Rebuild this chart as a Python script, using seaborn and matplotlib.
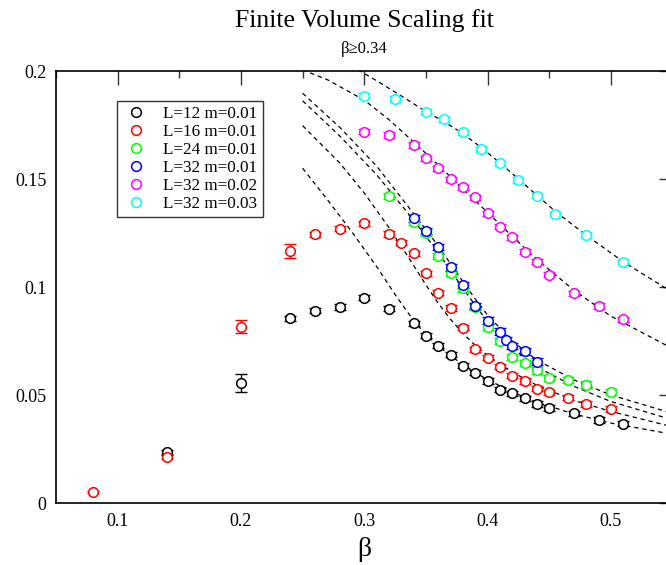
import numpy as np
import matplotlib
matplotlib.use("Agg")
import matplotlib.pyplot as plt
import seaborn as sns
from matplotlib.lines import Line2D
from matplotlib.ticker import MultipleLocator

sns.set_style("white")
plt.rcParams['font.family'] = ['Liberation Serif', 'DejaVu Serif']
plt.rcParams['text.color'] = 'black'
plt.rcParams['axes.labelcolor'] = 'black'
plt.rcParams['xtick.color'] = 'black'
plt.rcParams['ytick.color'] = 'black'

# ---------------- data ----------------
labels = ["L=12 m=0.01", "L=16 m=0.01", "L=24 m=0.01",
          "L=32 m=0.01", "L=32 m=0.02", "L=32 m=0.03"]
colors = ["#000000", "#ff0000", "#00ff00", "#0000ff", "#ff00ff", "#00ffff"]

l12_x = [0.14, 0.20, 0.24, 0.26, 0.28, 0.30, 0.32, 0.34, 0.35, 0.36, 0.37, 0.38,
         0.39, 0.40, 0.41, 0.42, 0.43, 0.44, 0.45, 0.47, 0.49, 0.51]
l12_y = [0.0235, 0.0555, 0.0855, 0.089, 0.0907, 0.095, 0.090, 0.0832, 0.0775, 0.0728,
         0.0686, 0.0635, 0.0603, 0.0565, 0.0525, 0.0508, 0.0485, 0.0458, 0.044,
         0.0415, 0.0384, 0.0368]
l12_e = [0.0012, 0.004, 0.0012, 0.0012, 0.0012, 0.0012, 0.0012, 0.0012, 0.0012, 0.0012,
         0.0012, 0.0012, 0.0012, 0.0012, 0.0012, 0.0012, 0.0012, 0.0012, 0.0012,
         0.0012, 0.0012, 0.0012]

l16_x = [0.08, 0.14, 0.20, 0.24, 0.26, 0.28, 0.30, 0.32, 0.33, 0.34, 0.35, 0.36,
         0.37, 0.38, 0.39, 0.40, 0.41, 0.42, 0.43, 0.44, 0.45, 0.465, 0.48, 0.50]
l16_y = [0.005, 0.0215, 0.0815, 0.1168, 0.1244, 0.127, 0.1295, 0.1245, 0.1205, 0.1156,
         0.1063, 0.0974, 0.0903, 0.0811, 0.0712, 0.0672, 0.0631, 0.0589, 0.0565,
         0.053, 0.0513, 0.0488, 0.0458, 0.0435]
l16_e = [0.0004, 0.0012, 0.003, 0.0032, 0.0012, 0.0012, 0.0012, 0.0012, 0.0012, 0.0012,
         0.0012, 0.0012, 0.0012, 0.0012, 0.0012, 0.0012, 0.0012, 0.0012, 0.0012,
         0.0012, 0.0012, 0.0012, 0.0012, 0.0012]

l24_x = [0.32, 0.34, 0.35, 0.36, 0.37, 0.38, 0.39, 0.40, 0.41, 0.42, 0.43, 0.44,
         0.45, 0.465, 0.48, 0.50]
l24_y = [0.1421, 0.1302, 0.1249, 0.1144, 0.1066, 0.0994, 0.0908, 0.0815, 0.0749,
         0.0675, 0.0649, 0.0614, 0.0578, 0.057, 0.0548, 0.0515]
l24_e = [0.0015] * 16

l32a_x = [0.34, 0.35, 0.36, 0.37, 0.38, 0.39, 0.40, 0.41, 0.415, 0.42, 0.43, 0.44]
l32a_y = [0.1318, 0.126, 0.1184, 0.1091, 0.1009, 0.0912, 0.0844, 0.0793, 0.0753,
          0.0726, 0.0702, 0.0655]
l32a_e = [0.0015] * 12

l32b_x = [0.30, 0.32, 0.34, 0.35, 0.36, 0.37, 0.38, 0.39, 0.40, 0.41, 0.42, 0.43,
          0.44, 0.45, 0.47, 0.49, 0.51]
l32b_y = [0.1719, 0.1704, 0.1657, 0.1596, 0.155, 0.1499, 0.1462, 0.1415, 0.1341,
          0.1279, 0.123, 0.1163, 0.1118, 0.1056, 0.097, 0.0912, 0.085]
l32b_e = [0.0012] * 17

l32c_x = [0.30, 0.325, 0.35, 0.365, 0.38, 0.395, 0.41, 0.425, 0.44, 0.455, 0.48, 0.51]
l32c_y = [0.1886, 0.187, 0.1812, 0.1776, 0.1716, 0.1639, 0.1573, 0.1495, 0.1423,
          0.1337, 0.1241, 0.1117]
l32c_e = [0.0012] * 12

# fit curves
fit12_x = [0.25, 0.27, 0.29, 0.31, 0.325, 0.34, 0.35, 0.36, 0.37, 0.38, 0.39, 0.40,
           0.42, 0.44, 0.47, 0.50, 0.55]
fit12_y = [0.155, 0.1405, 0.1255, 0.1095, 0.0965, 0.0845, 0.078, 0.0728, 0.0682,
           0.0641, 0.0604, 0.0571, 0.0514, 0.0467, 0.0412, 0.0370, 0.0318]
fit16_x = [0.25, 0.28, 0.30, 0.32, 0.335, 0.35, 0.36, 0.37, 0.38, 0.39, 0.40, 0.42,
           0.44, 0.47, 0.50, 0.55]
fit16_y = [0.1747, 0.1575, 0.1435, 0.1275, 0.1145, 0.1010, 0.0925, 0.0850, 0.0785,
           0.0730, 0.0683, 0.0606, 0.0545, 0.0475, 0.0424, 0.0353]
fit24_x = [0.25, 0.28, 0.31, 0.34, 0.36, 0.375, 0.39, 0.40, 0.42, 0.44, 0.47, 0.50, 0.55]
fit24_y = [0.1862, 0.170, 0.152, 0.131, 0.116, 0.1035, 0.0915, 0.0840, 0.0718, 0.0630,
           0.0540, 0.0470, 0.0385]
fit32a_x = [0.25, 0.28, 0.31, 0.34, 0.36, 0.38, 0.39, 0.40, 0.42, 0.44, 0.47, 0.50, 0.55]
fit32a_y = [0.1897, 0.174, 0.156, 0.134, 0.119, 0.1025, 0.0945, 0.0870, 0.0750, 0.0662,
            0.0570, 0.0500, 0.0415]
fit32b_x = [0.25, 0.27, 0.30, 0.32, 0.34, 0.36, 0.38, 0.40, 0.42, 0.44, 0.47, 0.50, 0.55]
fit32b_y = [0.2005, 0.1960, 0.1865, 0.1775, 0.1672, 0.1565, 0.1455, 0.1345, 0.1235,
            0.1128, 0.0985, 0.0865, 0.0715]
fit32c_x = [0.295, 0.31, 0.33, 0.35, 0.365, 0.38, 0.395, 0.41, 0.425, 0.44, 0.455,
            0.48, 0.51, 0.55]
fit32c_y = [0.2005, 0.1955, 0.1885, 0.1812, 0.1765, 0.171, 0.1645, 0.1575, 0.150,
            0.1425, 0.1350, 0.1240, 0.1117, 0.0975]

series = [(l12_x, l12_y, l12_e), (l16_x, l16_y, l16_e), (l24_x, l24_y, l24_e),
          (l32a_x, l32a_y, l32a_e), (l32b_x, l32b_y, l32b_e), (l32c_x, l32c_y, l32c_e)]
fits = [(fit12_x, fit12_y), (fit16_x, fit16_y), (fit24_x, fit24_y),
        (fit32a_x, fit32a_y), (fit32b_x, fit32b_y), (fit32c_x, fit32c_y)]

# ---------------- figure ----------------
fig = plt.figure(figsize=(6.66, 5.65), dpi=100)
ax = fig.add_axes([56 / 666, 62 / 565, 616.5 / 666, 432 / 565])

for fx, fy in fits:
    sns.lineplot(x=fx, y=fy, ax=ax, color="black", lw=0.9, sort=True,
                 estimator=None, linestyle=(0, (3.5, 3)), zorder=2)

for (x, y, e), c in zip(series, colors):
    ax.errorbar(x, y, yerr=e, fmt="none", ecolor=c, elinewidth=1.0,
                capsize=4.5, capthick=1.0, zorder=3)
    sns.scatterplot(x=x, y=y, ax=ax, marker="o", s=48, facecolor="white",
                    edgecolor=c, linewidth=1.1, zorder=4)

ax.set_xlim(0.05, 0.55)
ax.set_ylim(0, 0.2)
ax.xaxis.set_minor_locator(MultipleLocator(0.05))
ax.yaxis.set_minor_locator(MultipleLocator(0.025))
ax.set_xticks([0.1, 0.2, 0.3, 0.4, 0.5])
ax.set_xticklabels(["0.1", "0.2", "0.3", "0.4", "0.5"])
ax.set_yticks([0, 0.05, 0.1, 0.15, 0.2])
ax.set_yticklabels(["0", "0.05", "0.1", "0.15", "0.2"])
ax.tick_params(which="both", direction="in", top=True, right=True,
               labelsize=13, width=1.0, color="#333333", labelcolor="black")
ax.tick_params(which="major", length=10, pad=7)
ax.tick_params(which="minor", length=5)
for s in ax.spines.values():
    s.set_linewidth(1.2)
    s.set_color("black")

ax.set_xlabel("β", fontsize=20, labelpad=5)
fig.text(0.5 * (56 + 672) / 666, 1 - 21 / 565, "Finite Volume Scaling fit",
         ha="center", va="center", fontsize=18.5)
fig.text(0.5 * (56 + 672) / 666, 1 - 49 / 565, "β≥0.34",
         ha="center", va="center", fontsize=12)

handles = [Line2D([], [], marker="o", linestyle="none", markersize=7,
                  markerfacecolor="white", markeredgecolor=c, markeredgewidth=1.1)
           for c in colors]
leg = ax.legend(handles, labels, loc="upper left", bbox_to_anchor=(0.099, 0.93),
                borderaxespad=0, fontsize=12.3, frameon=True, fancybox=False,
                labelspacing=0.11, handlelength=1.6, handletextpad=0.8,
                borderpad=0.3)
leg.get_frame().set_edgecolor("black")
leg.get_frame().set_linewidth(1.0)

fig.savefig("out.png", dpi=100)
